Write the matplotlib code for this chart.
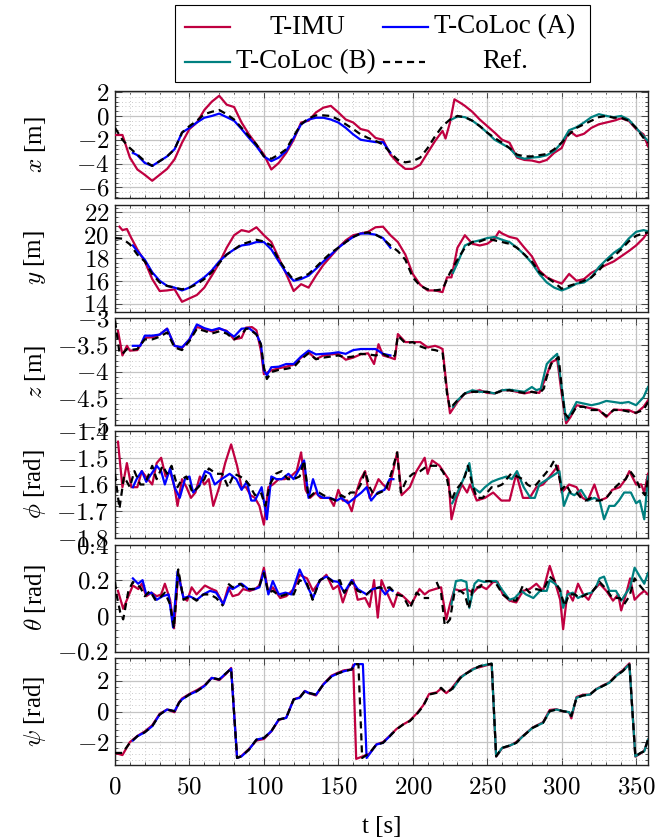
import matplotlib
matplotlib.use("Agg")
import matplotlib.pyplot as plt
import numpy as np
from matplotlib.ticker import MultipleLocator, FuncFormatter
from matplotlib.lines import Line2D
from matplotlib.patches import Rectangle

plt.rcParams['mathtext.fontset'] = 'cm'
plt.rcParams['font.family'] = ['Liberation Serif', 'DejaVu Serif']
plt.rcParams['axes.unicode_minus'] = True

# ---------------- data ----------------
t5 = list(range(0, 360, 5)) + [358]

# x [m]
x_ref_t = t5
x_ref = [-1.0, -2.0, -2.7, -3.25, -3.8, -4.2, -3.8, -3.4, -2.8, -1.4,
         -0.85, -0.4, 0.15, 0.35, 0.5, 0.15, -0.3, -1.0, -1.7, -2.4,
         -3.4, -3.6, -3.25, -2.8, -1.7, -0.7, -0.2, 0.05, 0.05, 0.0,
         -0.3, -0.7, -1.1, -1.55, -1.85, -2.1, -2.4, -3.1, -3.7, -3.9,
         -3.8, -3.5, -2.7, -1.7, -0.85, -0.3, 0.0, -0.1, -0.4, -0.85,
         -1.4, -1.85, -2.25, -2.7, -3.25, -3.4, -3.4, -3.3, -3.2, -2.8,
         -2.25, -1.55, -1.0, -0.7, -0.4, -0.1, 0.0, -0.15, -0.15, -0.4,
         -1.0, -1.85, -2.25]
x_imu_t = [0, 5, 10, 15, 20, 25, 30, 35, 40, 45, 50, 55, 60, 65, 70, 75, 80, 85, 90, 95,
           100, 105, 110, 115, 120, 125, 130, 135, 140, 145, 150, 155, 160, 165, 170, 175,
           180, 185, 190, 195, 200, 205, 210, 215, 220, 222, 225, 228, 232, 235, 240, 245,
           250, 255, 260, 265, 270, 275, 280, 285, 290, 295, 300, 305, 310, 315, 320, 325,
           330, 335, 340, 345, 350, 355, 358]
x_imu = [-1.6, -1.6, -3.5, -4.5, -4.95, -5.45, -4.95, -4.45, -3.65, -2.25,
         -1.1, -0.55, 0.5, 1.2, 1.7, 0.95, 0.75, -0.55, -1.55, -2.4,
         -3.25, -4.5, -3.95, -3.1, -2.0, -0.55, -0.4, 0.3, 0.7, 0.85,
         0.3, -0.3, -0.55, -1.1, -1.25, -1.85, -2.0, -3.25, -3.95, -4.45,
         -4.45, -4.1, -3.1, -2.1, -1.25, -1.9, -0.55, 1.4, 1.1, 0.85,
         0.35, -0.3, -0.85, -1.4, -2.0, -2.25, -3.5, -3.7, -3.75, -3.9,
         -3.7, -3.1, -2.7, -1.25, -1.7, -1.5, -1.0, -0.7, -0.55, -0.4,
         -0.2, -0.4, -1.1, -1.55, -2.55]
x_a_t = [12] + list(range(15, 190, 5))
x_a = [-3.1, -3.3, -3.95, -4.2, -3.8, -3.4, -2.8, -1.4, -1.0, -0.55,
       -0.15, 0.0, 0.2, -0.1, -0.4, -1.1, -1.85, -2.55, -3.4, -3.8,
       -3.5, -2.95, -1.85, -0.7, -0.3, -0.15, -0.15, -0.3, -0.55, -1.0,
       -1.55, -2.0, -2.1, -2.2, -2.2, -3.1]
x_b_t = [226] + list(range(230, 360, 5)) + [358]
x_b = [-0.3, -0.05, -0.1, -0.4, -0.85, -1.4, -2.0, -2.35, -2.7, -3.4,
       -3.6, -3.5, -3.45, -3.3, -2.95, -2.25, -1.2, -0.95, -0.55, -0.1,
       0.15, 0.0, -0.1, 0.0, -0.3, -1.0, -1.7, -2.1]

# y [m]
y_ref_t = t5
y_ref = [19.75, 19.7, 19.2, 18.3, 17.7, 16.6, 15.85, 15.55, 15.4, 15.25,
         15.4, 15.7, 16.15, 16.75, 17.55, 18.3, 18.75, 19.2, 19.4, 19.6,
         19.45, 19.1, 17.85, 16.9, 16.05, 16.3, 16.6, 17.2, 17.85, 18.45,
         18.9, 19.4, 19.85, 20.15, 20.25, 20.05, 19.7, 19.1, 18.6, 17.85,
         16.3, 15.55, 15.25, 15.15, 15.25, 16.7, 17.85, 18.9, 19.4, 19.45,
         19.7, 19.55, 19.4, 19.25, 18.9, 18.3, 17.7, 16.75, 16.3, 15.85,
         15.3, 15.55, 15.75, 16.0, 16.3, 16.9, 17.7, 18.15, 18.75, 19.45,
         19.95, 20.15, 20.25]
y_imu_t = sorted([3, 5, 8] + list(range(10, 225, 5)) + [223, 226] + list(range(230, 260, 5))
                 + [258] + list(range(260, 360, 5)) + [358])
y_imu = [20.75, 20.45, 20.55, 20.0, 18.75, 17.7, 16.15, 15.1, 15.15, 15.25,
         14.15, 14.45, 14.75, 15.4, 16.45, 17.55, 18.9, 20.0, 20.45, 20.3,
         20.7, 20.0, 19.4, 18.0, 16.6, 15.1, 15.7, 15.4, 16.45, 17.4,
         18.15, 18.9, 19.55, 20.0, 20.15, 20.3, 20.7, 20.75, 20.0, 19.4,
         18.3, 16.6, 15.65, 15.15, 15.15, 15.0, 16.3, 16.3, 18.9, 20.0,
         19.25, 19.1, 19.25, 19.7, 20.35, 20.15, 19.85, 19.7, 18.9, 18.15,
         16.9, 16.3, 16.0, 15.75, 16.6, 16.0, 16.15, 16.7, 17.05, 17.4,
         17.7, 18.15, 18.6, 19.1, 19.75, 20.3]
y_a_t = [12] + list(range(15, 190, 5))
y_a = [19.1, 18.6, 17.85, 16.75, 16.0, 15.55, 15.4, 15.15, 15.4, 15.85,
       16.3, 16.9, 17.7, 18.3, 18.75, 19.1, 19.2, 19.4, 19.4, 18.75,
       17.7, 16.7, 16.0, 16.15, 16.45, 17.05, 17.7, 18.3, 18.9, 19.4,
       19.85, 20.15, 20.15, 20.05, 19.75, 18.9]
y_b_t = [227] + list(range(230, 360, 5)) + [358]
y_b = [16.7, 17.55, 19.1, 19.4, 19.55, 19.75, 19.85, 19.6, 19.4, 18.9,
       18.3, 17.55, 16.6, 15.85, 15.4, 15.15, 15.4, 15.75, 15.85, 16.3,
       17.2, 17.85, 18.45, 18.9, 19.7, 20.3, 20.45, 20.35]

# z [m]
z_ref_t = [0, 3, 5, 8, 10, 15, 20, 25, 30, 35, 40, 45, 50, 55, 60, 65, 70, 75, 80, 85,
           88, 90, 95, 98, 100, 102, 105, 110, 115, 120, 125, 130, 135, 140, 145, 150, 155,
           160, 165, 170, 175, 180, 185, 188, 190, 195, 200, 205, 210, 215, 220, 223, 225,
           230, 235, 240, 245, 250, 255, 260, 265, 270, 275, 280, 285, 288, 290, 293, 295,
           298, 300, 302, 305, 310, 315, 320, 325, 330, 335, 340, 345, 350, 355, 358]
z_ref = [-3.05, -3.65, -3.67, -3.58, -3.6, -3.58, -3.4, -3.4, -3.35, -3.27,
         -3.55, -3.6, -3.43, -3.2, -3.24, -3.29, -3.25, -3.29, -3.4, -3.31,
         -3.2, -3.2, -3.31, -3.49, -3.92, -4.14, -4.01, -3.97, -3.95, -3.92,
         -3.77, -3.66, -3.77, -3.74, -3.72, -3.7, -3.74, -3.72, -3.67, -3.68,
         -3.7, -3.67, -3.74, -3.7, -3.33, -3.47, -3.45, -3.53, -3.58, -3.6,
         -3.64, -4.41, -4.69, -4.54, -4.41, -4.38, -4.38, -4.38, -4.41, -4.36,
         -4.35, -4.38, -4.4, -4.38, -4.41, -4.32, -4.1, -3.86, -3.8, -3.73,
         -4.29, -4.78, -4.88, -4.66, -4.66, -4.72, -4.72, -4.83, -4.72, -4.72,
         -4.75, -4.77, -4.72, -4.57]
z_imu_t = [2, 5, 8, 10, 15, 20, 25, 30, 35, 40, 45, 50, 55, 60, 65, 70, 75, 80, 85, 88,
           92, 95, 98, 100, 105, 110, 115, 120, 125, 130, 135, 140, 145, 150, 155, 160,
           165, 170, 174, 177, 180, 185, 188, 190, 195, 200, 205, 210, 215, 218, 220, 223,
           225, 230, 235, 240, 245, 250, 255, 260, 265, 270, 275, 280, 285, 290, 293, 297,
           300, 303, 306, 310, 315, 320, 325, 330, 335, 340, 345, 350, 355, 358]
z_imu = [-3.24, -3.7, -3.52, -3.61, -3.6, -3.37, -3.36, -3.31, -3.2, -3.52,
         -3.56, -3.4, -3.17, -3.2, -3.25, -3.2, -3.24, -3.4, -3.37, -3.18,
         -3.17, -3.23, -3.61, -4.05, -3.98, -3.94, -3.91, -3.87, -3.74, -3.64,
         -3.77, -3.7, -3.68, -3.67, -3.78, -3.74, -3.68, -3.66, -3.86, -3.49,
         -3.7, -3.74, -3.77, -3.3, -3.45, -3.45, -3.45, -3.55, -3.52, -3.55,
         -3.58, -4.35, -4.78, -4.57, -4.41, -4.38, -4.35, -4.4, -4.41, -4.35,
         -4.35, -4.38, -4.41, -4.38, -4.4, -4.07, -3.83, -3.77, -4.41, -4.97,
         -4.85, -4.63, -4.66, -4.69, -4.72, -4.85, -4.71, -4.72, -4.72, -4.78,
         -4.66, -4.54]
z_a_t = [12, 17, 20, 25, 30, 35, 40, 45, 50, 55, 60, 65, 70, 75, 80, 85, 90, 95, 98, 100,
         102, 105, 110, 115, 120, 125, 130, 135, 140, 145, 150, 155, 160, 165, 170, 175,
         180, 185]
z_a = [-3.52, -3.52, -3.33, -3.33, -3.31, -3.2, -3.52, -3.55, -3.4, -3.12,
       -3.19, -3.23, -3.19, -3.25, -3.35, -3.2, -3.19, -3.3, -3.49, -3.98,
       -4.07, -3.92, -3.91, -3.86, -3.86, -3.72, -3.61, -3.68, -3.67, -3.66,
       -3.64, -3.67, -3.6, -3.58, -3.58, -3.58, -3.67, -3.7]
z_b_t = [227, 230, 235, 240, 245, 250, 255, 260, 265, 270, 275, 280, 283, 286, 290, 293,
         297, 300, 303, 306, 310, 315, 320, 325, 330, 335, 340, 345, 350, 355, 358]
z_b = [-4.66, -4.54, -4.41, -4.35, -4.38, -4.38, -4.41, -4.35, -4.34, -4.36,
       -4.38, -4.29, -4.35, -4.32, -3.86, -3.77, -3.67, -4.29, -4.91, -4.78,
       -4.57, -4.6, -4.63, -4.6, -4.55, -4.57, -4.59, -4.57, -4.63, -4.48,
       -4.29]

# phi [rad]
phi_ref_t = [0, 3, 6, 10, 13, 17, 20, 25, 28, 32, 35, 38, 42, 45, 48, 52, 56, 60, 63, 68,
             72, 76, 80, 84, 87, 90, 94, 98, 101, 104, 108, 112, 116, 120, 124, 127, 130,
             134, 137, 140, 144, 148, 152, 155, 158, 162, 165, 168, 171, 174, 178, 182, 186,
             189.5, 192, 196, 200, 205, 210, 213, 217, 220, 223, 226, 229, 232, 235, 237,
             240, 243, 247, 250, 253, 256, 260, 263, 266, 270, 274, 277, 280, 283, 286, 289,
             292, 295, 298, 300, 303, 306, 310, 313, 316, 320, 323, 326, 330, 333, 336, 340,
             343, 346, 350, 353, 356, 358]
phi_ref = [-1.56, -1.69, -1.57, -1.61, -1.55, -1.60, -1.6, -1.53, -1.58, -1.53,
           -1.56, -1.53, -1.61, -1.58, -1.57, -1.63, -1.61, -1.58, -1.54, -1.56,
           -1.56, -1.61, -1.56, -1.57, -1.58, -1.60, -1.64, -1.63, -1.68, -1.60,
           -1.56, -1.55, -1.58, -1.58, -1.57, -1.51, -1.65, -1.63, -1.63, -1.64,
           -1.65, -1.66, -1.64, -1.65, -1.63, -1.63, -1.60, -1.55, -1.61, -1.64,
           -1.63, -1.62, -1.55, -1.48, -1.63, -1.58, -1.56, -1.55, -1.53, -1.53,
           -1.53, -1.55, -1.58, -1.66, -1.62, -1.6, -1.57, -1.53, -1.6, -1.65,
           -1.65, -1.63, -1.61, -1.61, -1.6, -1.58, -1.56, -1.57, -1.58, -1.6,
           -1.61, -1.6, -1.58, -1.56, -1.54, -1.51, -1.56, -1.62, -1.6, -1.63,
           -1.63, -1.65, -1.66, -1.65, -1.66, -1.66, -1.65, -1.63, -1.61, -1.59,
           -1.58, -1.55, -1.58, -1.62, -1.64, -1.58]
phi_imu_t = [2, 5, 8, 11, 15, 18, 22, 25, 28, 31, 34, 37, 40, 42, 45, 48, 51, 54, 57, 60,
             63, 66, 70, 74, 78, 82, 85, 88, 91, 94, 97, 100, 103, 106, 110, 114, 118, 122,
             125, 128, 131, 135, 138, 141, 144, 147, 150, 153, 156, 159, 162, 165, 168, 171,
             174, 177, 180, 184, 189.5, 192.5, 198, 202.5, 208, 210, 213, 218, 224, 226,
             229.5, 233, 236.5, 238.5, 243, 248.5, 254, 259.5, 265, 269.5, 274, 278.5, 283,
             287.5, 292, 297.5, 300, 305, 310, 314, 317.5, 322, 325.5, 330, 334, 339, 343,
             345.5, 350, 353.5, 355.5, 358]
phi_imu = [-1.44, -1.61, -1.52, -1.61, -1.61, -1.55, -1.58, -1.6, -1.52, -1.5,
           -1.57, -1.55, -1.61, -1.68, -1.58, -1.61, -1.65, -1.63, -1.57, -1.6,
           -1.58, -1.68, -1.61, -1.52, -1.45, -1.53, -1.61, -1.61, -1.64, -1.65,
           -1.68, -1.75, -1.61, -1.6, -1.58, -1.58, -1.57, -1.55, -1.48, -1.62,
           -1.65, -1.63, -1.65, -1.65, -1.65, -1.68, -1.62, -1.66, -1.66, -1.70,
           -1.63, -1.58, -1.55, -1.65, -1.62, -1.58, -1.6, -1.62, -1.48, -1.64,
           -1.61, -1.55, -1.5, -1.56, -1.51, -1.53, -1.58, -1.73, -1.65, -1.6,
           -1.63, -1.6, -1.66, -1.65, -1.63, -1.66, -1.66, -1.56, -1.65, -1.65,
           -1.61, -1.6, -1.57, -1.53, -1.63, -1.6, -1.61, -1.65, -1.66, -1.6,
           -1.66, -1.65, -1.62, -1.61, -1.58, -1.55, -1.6, -1.6, -1.63, -1.56]
phi_a_t = [12, 14.5, 18, 21, 24.5, 28, 31, 33.5, 37, 40, 43.5, 47, 50, 52.5, 57, 60.5, 64,
           67, 71.5, 77, 81.5, 85, 88.5, 91.5, 94, 98.5, 102, 105, 108.5, 112, 116.5, 120,
           124, 127, 130, 133, 136.5, 140, 144.5, 149, 152, 156.5, 161, 165.5, 169, 172,
           176.5, 181, 184.5, 187]
phi_a = [-1.61, -1.58, -1.55, -1.59, -1.56, -1.53, -1.55, -1.6, -1.54, -1.61,
         -1.65, -1.58, -1.57, -1.63, -1.6, -1.55, -1.56, -1.6, -1.58, -1.56,
         -1.58, -1.62, -1.59, -1.66, -1.66, -1.61, -1.73, -1.57, -1.58, -1.58,
         -1.56, -1.58, -1.54, -1.51, -1.65, -1.58, -1.64, -1.65, -1.65, -1.66,
         -1.65, -1.67, -1.65, -1.63, -1.61, -1.66, -1.63, -1.62, -1.58, -1.58]
phi_b_t = [226.5, 230, 234, 238, 240.5, 245, 248.5, 253, 257.5, 263, 266.5, 270, 274.5,
           279, 282, 285, 290.5, 296, 298.5, 301.5, 305, 308.5, 313, 317.5, 322, 325.5,
           328.5, 332, 335.5, 338.5, 342, 346.5, 350, 352.5, 355.5, 358]
phi_b = [-1.67, -1.63, -1.58, -1.52, -1.61, -1.63, -1.61, -1.59, -1.58, -1.57,
         -1.58, -1.55, -1.61, -1.65, -1.65, -1.6, -1.58, -1.56, -1.55, -1.68,
         -1.63, -1.64, -1.62, -1.66, -1.65, -1.66, -1.73, -1.68, -1.68, -1.66,
         -1.63, -1.63, -1.67, -1.66, -1.73, -1.57]

# theta [rad]
theta_ref_t = [0, 1, 3.5, 5.5, 9, 12, 17, 20, 23.5, 27, 30, 33.5, 37, 39.6, 42.5, 46, 50.3,
               54.8, 59.3, 63.8, 68, 72.7, 74.5, 76, 79, 84, 88, 93, 97, 100, 103, 106, 111,
               115, 120, 124, 129, 132.7, 137.6, 142, 146.5, 151, 154, 159, 163, 169, 173,
               178, 180, 184.5, 189, 193.5, 198, 202.5, 207, 211, 213.5, 216, 219, 221.5,
               225, 228, 232, 235, 237.5, 240.5, 245, 248, 251.5, 256, 260.5, 265, 269.5,
               274, 278.5, 283, 287.5, 292, 295.5, 299, 302, 305, 309, 312, 316.5, 321,
               325.5, 330, 334, 339, 342, 345.5, 349, 352.5, 355.5, 358]
theta_ref = [0.19, 0.12, 0.02, -0.02, 0.14, 0.19, 0.16, 0.11, 0.14, 0.09,
             0.1, 0.13, 0.065, -0.07, 0.26, 0.09, 0.11, 0.085, 0.12, 0.12,
             0.1, 0.055, np.nan, 0.18, 0.16, 0.18, 0.15, 0.15, 0.17, 0.24,
             0.13, 0.14, 0.11, 0.12, 0.12, 0.2, 0.18, 0.09, 0.2, 0.22,
             0.19, 0.2, 0.13, 0.19, 0.14, 0.12, 0.15, 0.16, 0.15, 0.16,
             0.12, 0.11, 0.04, 0.13, 0.1, 0.1, np.nan, 0.19, 0.13, -0.055,
             -0.02, 0.13, 0.14, 0.12, 0.04, 0.16, 0.16, 0.195, 0.195, 0.18,
             0.12, 0.09, 0.085, 0.17, 0.13, 0.15, 0.14, 0.22, 0.195, 0.14,
             0.055, 0.12, 0.12, 0.1, 0.12, 0.14, 0.19, 0.15, 0.1, 0.1,
             0.065, 0.11, 0.21, 0.17, 0.14, 0.15]
theta_imu_t = [2, 5.5, 9, 12, 15.7, 18, 21, 24.5, 28, 31, 33.5, 37, 39.6, 42.5, 46, 48.5,
               51.5, 54.8, 60.4, 65, 68, 72.7, 76, 79, 83, 86, 90.5, 94, 97, 100, 103, 106,
               111, 115, 120, 124, 129, 133, 137.6, 142, 146.5, 150, 153, 156.5, 160, 163,
               168, 171, 174, 176.5, 179, 181, 187, 190, 193.5, 199, 204.5, 208, 211, 215,
               219, 222.5, 225, 228, 232, 236, 240.5, 245, 249.5, 254, 257, 260.5, 265,
               269.5, 274, 278.5, 283, 287.5, 292, 295.5, 299, 301, 304, 307.5, 311, 314.5,
               318, 321, 325.5, 330, 334.5, 338, 340, 343.5, 346, 349, 352.5, 355.5, 358]
theta_imu = [0.14, 0.04, 0.11, 0.17, 0.15, 0.18, 0.11, 0.13, 0.11, 0.12,
             0.18, 0.09, -0.07, 0.24, 0.1, 0.085, 0.16, 0.12, 0.17, 0.15,
             0.14, 0.065, 0.16, 0.11, 0.12, 0.15, 0.14, 0.15, 0.17, 0.27,
             0.13, 0.16, 0.1, 0.11, 0.15, 0.23, 0.21, 0.14, 0.195, 0.23,
             0.15, 0.17, 0.075, 0.16, 0.2, 0.09, 0.1, 0.05, 0.2, -0.01,
             0.2, 0.16, 0.05, 0.13, 0.11, 0.065, 0.15, 0.12, 0.14, 0.15,
             0.16, -0.02, 0.065, 0.15, 0.14, 0.15, 0.13, 0.17, 0.15, 0.19,
             0.19, 0.12, 0.085, 0.075, 0.14, 0.15, 0.18, 0.14, 0.28, 0.19,
             0.09, -0.075, 0.14, 0.085, 0.18, 0.12, 0.09, 0.14, 0.18, 0.14,
             0.085, 0.12, 0.03, 0.13, 0.21, 0.09, 0.12, 0.14, 0.12]
theta_a_t = [12, 15.5, 18.5, 21, 24.5, 28, 32, 36, 39, 42, 46, 50, 55, 59.3, 63.8, 68,
             72.7, 77, 79, 85, 89.5, 94, 97, 100, 103, 106, 110, 114.5, 118.5, 124, 129,
             133, 137.6, 142, 146.5, 150, 154, 159, 163, 169, 173, 178, 181.5, 184.5, 186.5]
theta_a = [0.21, 0.18, 0.2, 0.12, 0.13, 0.09, 0.11, 0.12, -0.065, 0.25,
           0.1, 0.11, 0.09, 0.12, 0.14, 0.13, 0.065, 0.16, 0.15, 0.18,
           0.15, 0.15, 0.16, 0.25, 0.12, 0.195, 0.12, 0.13, 0.12, 0.26,
           0.17, 0.1, 0.2, 0.22, 0.195, 0.19, 0.13, 0.2, 0.15, 0.12,
           0.15, 0.16, 0.12, 0.15, 0.14]
theta_b_t = [226, 229, 232.5, 236, 238, 241.5, 244, 248, 251.5, 256, 260.5, 265, 268.5, 273,
             276, 281, 285.5, 290, 292, 295.5, 299, 301, 304, 307.5, 311, 315.5, 320, 323,
             325.5, 328.5, 332, 336.5, 340, 343.5, 346, 349, 352.5, 355.5, 358]
theta_b = [0.065, 0.195, 0.2, 0.19, 0.045, 0.18, 0.2, 0.19, 0.195, 0.195,
           0.14, 0.09, 0.1, 0.14, 0.12, 0.1, 0.14, 0.14, 0.2, 0.18,
           0.15, 0.045, 0.12, 0.13, 0.1, 0.12, 0.13, 0.16, 0.21, 0.22,
           0.14, 0.14, 0.085, 0.13, 0.16, 0.27, 0.22, 0.18, 0.24]

# psi [rad]
psi_ref_t = [0, 5, 10, 15, 20, 25, 30, 35, 40, 43, 45, 50, 55, 60, 65, 70, 75, 78, 82, 85,
             90, 95, 100, 105, 110, 115, 120, 124, 127.5, 130, 135, 140, 145.5, 150, 154, 159,
             161, 163.5, 166, 171, 175.6, 180, 184.5, 189, 193.5, 198, 202.5, 207, 211, 216,
             219, 222.5, 226, 232, 236, 240.5, 245, 250.5, 253, 256, 260, 265, 269.5, 274,
             280.5, 287.5, 292, 296.5, 301, 305, 306.5, 310, 314.5, 319, 323, 327.5, 332,
             336.5, 341, 345.5, 349.5, 353, 355.5, 358]
psi_ref = [-2.71, -2.71, -2.05, -1.62, -1.36, -0.96, -0.2, 0.13, 0.02, 0.57,
           0.79, 1.11, 1.33, 1.66, 2.2, 2.1, 2.54, 2.8, -3.04, -2.93,
           -2.49, -1.84, -1.73, -1.29, -0.52, -0.42, 0.79, 0.9, 1.33, 1.22,
           1.1, 1.77, 2.3, 2.5, 2.64, 2.75, 3.1, 3.1, -3.04, -2.71,
           -2.16, -2.05, -1.62, -1.18, -0.85, -0.63, -0.2, 0.35, 1.11, 1.22,
           1.55, 1.22, 1.44, 2.2, 2.49, 2.75, 2.97, 3.08, 3.13, -2.93,
           -2.38, -2.23, -2.05, -1.62, -1.07, -0.74, 0.02, 0.13, 0.02, -0.04,
           -0.3, 0.9, 1.05, 1.11, 1.44, 1.66, 1.88, 2.32, 2.64, 3.08,
           -2.93, -2.71, -2.6, -1.84]
psi_imu_t = [0, 5, 10, 15, 20, 25, 30, 35, 40, 43, 45, 50, 55, 60, 65, 70, 75, 78, 82, 85,
             90, 95, 100, 105, 110, 115, 120, 124, 127.5, 130, 135, 140, 145.5, 150, 154, 159,
             160, 162, 166, 171, 175.6, 180, 184.5, 189, 193.5, 198, 202.5, 207, 211, 216,
             219, 222.5, 226, 232, 236, 240.5, 245, 250.5, 253, 256, 260, 265, 269.5, 274,
             280.5, 287.5, 292, 296.5, 301, 305, 306.5, 310, 314.5, 319, 323, 327.5, 332,
             336.5, 341, 345.5, 349.5, 353, 355.5, 358]
psi_imu = [-2.71, -2.85, -2.0, -1.6, -1.3, -0.9, -0.15, 0.13, -0.05, 0.6,
           0.85, 1.15, 1.4, 1.7, 2.2, 2.05, 2.5, 2.85, -3.04, -2.9,
           -2.45, -1.9, -1.8, -1.3, -0.55, -0.4, 0.8, 0.92, 1.35, 1.2,
           1.05, 1.8, 2.35, 2.55, 2.7, 2.75, 3.05, -3.1, -2.95, -2.75,
           -2.15, -2.0, -1.6, -1.15, -0.85, -0.6, -0.15, 0.4, 1.15, 1.25,
           1.5, 1.2, 1.5, 2.25, 2.5, 2.8, 2.9, 3.05, 3.1, -2.95,
           -2.4, -2.25, -2.0, -1.6, -1.05, -0.7, 0.1, 0.15, 0.0, -0.05,
           -0.45, 0.95, 1.1, 1.1, 1.45, 1.7, 1.9, 2.35, 2.7, 3.15,
           -2.95, -2.75, -2.55, -1.85]
psi_a_t = [12, 15, 20, 25, 30, 35, 40, 43, 45, 50, 55, 60, 65, 70, 75, 78, 82, 85, 90, 95,
           100, 105, 110, 115, 120, 124, 127.5, 130, 135, 140, 145.5, 150, 154, 159, 161,
           163.5, 166.5, 169, 175.6, 180, 184.5, 186]
psi_a = [-1.9, -1.62, -1.36, -0.96, -0.2, 0.13, 0.02, 0.57, 0.79, 1.11,
         1.33, 1.66, 2.2, 2.1, 2.54, 2.8, -3.04, -2.93, -2.49, -1.84,
         -1.73, -1.29, -0.52, -0.42, 0.79, 0.9, 1.33, 1.22, 1.1, 1.77,
         2.3, 2.5, 2.64, 2.75, 3.1, 3.1, 3.1, -3.04, -2.16, -2.05,
         -1.62, -1.45]
psi_b_t = [227, 232, 236, 240.5, 245, 250.5, 253, 256, 260, 265, 269.5, 274, 280.5, 287.5,
           292, 296.5, 301, 305, 306.5, 310, 314.5, 319, 323, 327.5, 332, 336.5, 341, 345.5,
           349.5, 353, 355.5, 358]
psi_b = [1.5, 2.2, 2.49, 2.75, 2.97, 3.08, 3.13, -2.93, -2.38, -2.23,
         -2.05, -1.62, -1.07, -0.74, 0.02, 0.13, 0.02, -0.04, -0.3, 0.9,
         1.05, 1.11, 1.44, 1.66, 1.88, 2.32, 2.64, 3.08, -2.93, -2.71,
         -2.6, -1.84]

# panel definitions: label, ylim, major step, series
panels = [
    (r"$x$ [m]", (-6.9, 2.1), 2.0, (x_imu_t, x_imu), (x_a_t, x_a), (x_b_t, x_b), (x_ref_t, x_ref)),
    (r"$y$ [m]", (13.3, 22.7), 2.0, (y_imu_t, y_imu), (y_a_t, y_a), (y_b_t, y_b), (y_ref_t, y_ref)),
    (r"$z$ [m]", (-5.0, -3.0), 0.5, (z_imu_t, z_imu), (z_a_t, z_a), (z_b_t, z_b), (z_ref_t, z_ref)),
    (r"$\phi$ [rad]", (-1.8, -1.4), 0.1, (phi_imu_t, phi_imu), (phi_a_t, phi_a), (phi_b_t, phi_b), (phi_ref_t, phi_ref)),
    (r"$\theta$ [rad]", (-0.2, 0.4), 0.2, (theta_imu_t, theta_imu), (theta_a_t, theta_a), (theta_b_t, theta_b), (theta_ref_t, theta_ref)),
    (r"$\psi$ [rad]", (-3.5, 3.5), 2.0, (psi_imu_t, psi_imu), (psi_a_t, psi_a), (psi_b_t, psi_b), (psi_ref_t, psi_ref)),
]

legend_labels = ["T-IMU", "T-CoLoc (A)", "T-CoLoc (B)", "Ref."]
c_imu, c_a, c_b, c_ref = "#bf0040", "#0000ff", "#008080", "black"

# ---------------- figure ----------------
W, H = 659, 839
fig = plt.figure(figsize=(W / 100, H / 100), dpi=100)
left_px, right_px = 115, 648
tops = [91, 204.5, 318, 431, 544.5, 658]
hpx = 107

def fmt(v, pos):
    s = f"{round(v, 6):g}"
    return f"${s}$"

lw = 1.6
dash = (3.2, 2.2)
for i, (lab, ylim, step, imu, a, b, ref) in enumerate(panels):
    ax = fig.add_axes([left_px / W, 1 - (tops[i] + hpx) / H, (right_px - left_px) / W, hpx / H])
    ax.plot(imu[0], imu[1], color=c_imu, lw=lw, zorder=3)
    ax.plot(a[0], a[1], color=c_a, lw=lw, zorder=4)
    ax.plot(b[0], b[1], color=c_b, lw=lw, zorder=4)
    ax.plot(ref[0], ref[1], color=c_ref, lw=lw, dashes=dash, zorder=5)
    ax.set_xlim(0, 358)
    ax.set_ylim(*ylim)
    ax.xaxis.set_major_locator(MultipleLocator(50))
    ax.xaxis.set_minor_locator(MultipleLocator(10))
    ax.yaxis.set_major_locator(MultipleLocator(step))
    ax.yaxis.set_minor_locator(MultipleLocator(step / 5))
    ax.yaxis.set_major_formatter(FuncFormatter(fmt))
    ax.xaxis.set_major_formatter(FuncFormatter(fmt))
    ax.tick_params(which='both', direction='in', top=True, right=True, labelsize=18,
                   color='#333333', width=0.6)
    ax.tick_params(which='major', length=5)
    ax.tick_params(which='minor', length=2.5)
    ax.tick_params(axis='y', pad=4)
    ax.set_axisbelow(True)
    ax.grid(which='major', color='#c4c4c4', lw=0.9, ls='-')
    ax.grid(which='minor', color='#b8b8b8', lw=0.6, ls=(0, (1, 3)))
    for sp in ax.spines.values():
        sp.set_linewidth(1.0)
        sp.set_color('#222222')
    ax.set_ylabel(lab, fontsize=18)
    ax.yaxis.set_label_coords(-0.125, 0.5)
    if i < len(panels) - 1:
        ax.tick_params(axis='x', labelbottom=False)
    else:
        ax.tick_params(axis='x', pad=8)
        ax.set_xlabel("t [s]", fontsize=18, labelpad=13)

# ---------------- legend (pgfplots style: centred text in two columns) ----------------
def fx(px):
    return px / W

def fy(py):
    return 1 - py / H

fig.add_artist(Rectangle((fx(175), fy(82)), fx(590) - fx(175), fy(5) - fy(82),
                         transform=fig.transFigure, facecolor='white',
                         edgecolor='black', lw=0.8, zorder=10))
leg_entries = [
    (legend_labels[0], c_imu, None, (185, 230), 307, 27),
    (legend_labels[1], c_a, None, (383, 428), 505, 27),
    (legend_labels[2], c_b, None, (185, 230), 306, 62),
    (legend_labels[3], c_ref, dash, (383, 425), 505, 62),
]
for text, col, ds, (hx0, hx1), tx, ty in leg_entries:
    ln = Line2D([fx(hx0), fx(hx1)], [fy(ty), fy(ty)], transform=fig.transFigure,
                color=col, lw=lw, zorder=11)
    if ds is not None:
        ln.set_dashes(ds)
    fig.add_artist(ln)
    fig.text(fx(tx), fy(ty), text, ha='center', va='center', fontsize=19.5, zorder=12)

fig.savefig("out.png", dpi=100)
